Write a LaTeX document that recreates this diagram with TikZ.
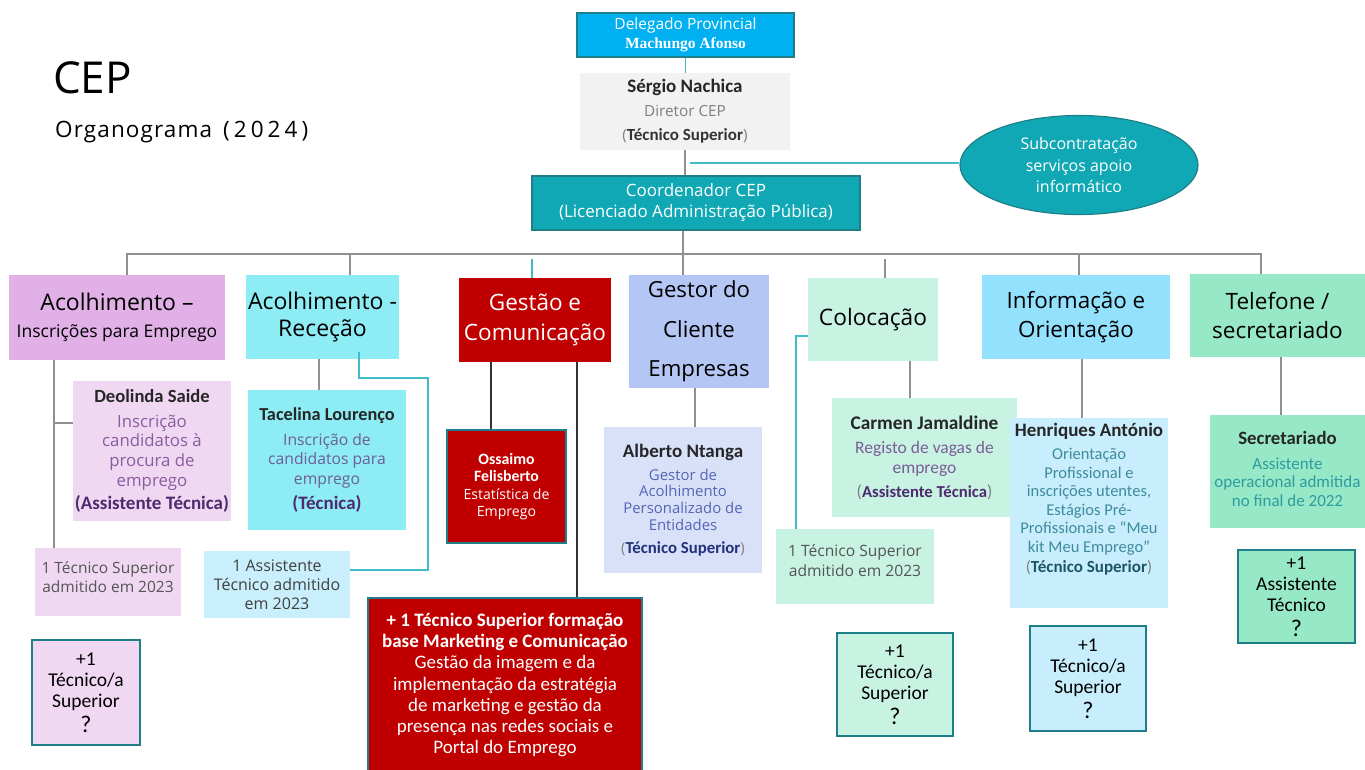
\documentclass[tikz,border=0pt]{standalone}
\usepackage{fontspec}
\setmainfont{Open Sans}
\newfontfamily\cali{Carlito}
\newfontfamily\tnr{Liberation Serif}
\usetikzlibrary{shapes.geometric}
\definecolor{delblue}{HTML}{00B0F0}
\definecolor{tealdk}{HTML}{1E7F88}
\definecolor{tealone}{HTML}{10A8B4}
\definecolor{lgray}{HTML}{F2F2F2}
\definecolor{orchid}{HTML}{E0B0E6}
\definecolor{lav}{HTML}{F0D8F2}
\definecolor{cyanL}{HTML}{8EECF4}
\definecolor{skyL}{HTML}{C9EFFC}
\definecolor{redd}{HTML}{C00000}
\definecolor{periw}{HTML}{B4C6F3}
\definecolor{periwL}{HTML}{D9E1F8}
\definecolor{mint}{HTML}{C8F2E1}
\definecolor{sky}{HTML}{94E1FE}
\definecolor{skyH}{HTML}{C8EEFD}
\definecolor{greentwo}{HTML}{96E8C7}
\definecolor{lineg}{HTML}{909090}
\definecolor{linet}{HTML}{40BCCB}
\definecolor{purpD}{HTML}{8A5CA0}
\definecolor{purpB}{HTML}{4E2A6E}
\definecolor{violG}{HTML}{6C5E96}
\definecolor{blueD}{HTML}{5566B5}
\definecolor{blueB}{HTML}{22327A}
\definecolor{purpC}{HTML}{7A5E98}
\definecolor{tealD}{HTML}{3E8B9B}
\definecolor{tealB}{HTML}{1D5564}
\definecolor{tealS}{HTML}{2F9C9E}
\definecolor{txtg}{HTML}{555555}
\definecolor{parg}{HTML}{7F7F7F}
\newcommand\fsz[2]{\fontsize{#1}{#2}\selectfont}
\newcommand\sz[1]{\fontsize{#1}{\baselineskip}\selectfont}
\newcommand\nmf[2]{{\cali\bfseries\sz{#1}#2}}
\tikzset{
  obox/.style={rectangle, inner sep=0pt, align=center},
  qbox/.style={obox, draw=tealdk, line width=2pt, font=\cali\fsz{19.5}{21}},
  gline/.style={draw=lineg, line width=1.2pt},
  tline/.style={draw=linet, line width=1.2pt},
  kline/.style={draw=black!80, line width=1.3pt}
}
\begin{document}
\begin{tikzpicture}[x=1pt,y=-1pt]
\useasboundingbox (0,0) rectangle (1365,769);
% title
\node[anchor=base west, inner sep=0pt, font=\fsz{44}{44}] (cep) at (53,93) {CEP};
\node[anchor=base west, inner sep=0pt, font=\fsz{22.5}{22.5}] (org) at (55,137) {\addfontfeatures{LetterSpace=5}Organograma\hspace{4pt} {\addfontfeatures{LetterSpace=18}(2024)}};
% top
\node[obox, fill=delblue, draw=tealdk, line width=1.5pt, minimum width=217pt, minimum height=44pt, text=white, font=\fsz{15.5}{19}] (del) at (685.5,35) {Delegado Provincial\\{\tnr\bfseries Machungo Afonso}};
\node[obox, fill=lgray, minimum width=210pt, minimum height=77pt, font=\fsz{15.3}{24}, text=parg] (ser) at (685,111.5) {\nmf{19}{\color{black!85}Sérgio Nachica}\\Diretor CEP\\(\nmf{17}{\color{black!80}Técnico Superior})};
\node[obox, fill=tealone, draw=tealdk, line width=1.5pt, minimum width=328pt, minimum height=54pt, text=white, font=\fsz{17}{21}] (coord) at (696,203) {Coordenador CEP\\(Licenciado Administração Pública)};
\node[ellipse, fill=tealone, draw=tealdk, line width=1.2pt, minimum width=238pt, minimum height=99pt, inner sep=0pt, align=center, text=white, font=\fsz{16}{21.5}] (ell) at (1079,165) {Subcontratação\\serviços apoio\\informático};
% level 2
\node[obox, fill=orchid, minimum width=216pt, minimum height=85pt, font=\fsz{17.5}{26.7}] (ai) at (117,317.5) {{\sz{23}Acolhimento –}\\Inscrições para Emprego};
\node[obox, fill=cyanL, minimum width=153pt, minimum height=84pt, font=\fsz{23}{27}] (ar) at (322.5,317) {Acolhimento -\\Receção};
\node[obox, fill=redd, minimum width=152pt, minimum height=84pt, text=white, font=\fsz{22.5}{29.3}] (gc) at (535,320) {Gestão e\\Comunicação};
\node[obox, fill=periw, minimum width=140pt, minimum height=113pt, font=\fsz{22.2}{39.7}] (ge) at (699,331.5) {Gestor do\\Cliente\\Empresas};
\node[obox, fill=mint, minimum width=130pt, minimum height=83pt, font=\fsz{22.7}{28}] (co) at (873,319.5) {Colocação};
\node[obox, fill=sky, minimum width=188pt, minimum height=84pt, font=\fsz{22.4}{28.3}] (io) at (1076,317) {Informação e\\Orientação};
\node[obox, fill=greentwo, minimum width=175pt, minimum height=83pt, font=\fsz{22.5}{28.3}] (ts) at (1277.5,315.5) {Telefone /\\secretariado};
% level 3
\node[obox, fill=lav, minimum width=158pt, minimum height=140pt, font=\fsz{16.8}{19.7}, text=purpD] (deo) at (152,451) {\nmf{18.6}{\color{black!85}Deolinda Saide}\\[5pt]Inscrição\\candidatos à\\procura de\\emprego\\[4pt]\nmf{19}{\color{purpB}(Assistente Técnica)}};
\node[obox, fill=lav, minimum width=146pt, minimum height=68pt, font=\fsz{15.5}{19.3}, text=txtg, text depth=10pt] (ai1) at (108,582) {1 Técnico Superior\\admitido em 2023};
\node[qbox, fill=lav, minimum width=108pt, minimum height=105pt] (aiq) at (86,692.5) {+1\\Técnico/a\\Superior\\[4pt]{\sz{24}?}};
\node[obox, fill=cyanL, minimum width=158pt, minimum height=140pt, font=\fsz{15.7}{19.3}, text=violG] (tac) at (327,460) {\nmf{18.3}{\color{black!85}Tacelina Lourenço}\\[6pt]Inscrição de\\candidatos para\\emprego\\[6pt]\nmf{19}{\color{purpB}(Técnica)}};
\node[obox, fill=skyL, minimum width=146pt, minimum height=67pt, font=\fsz{16}{19.3}, text=black!75] (ar1) at (277,584.5) {1 Assistente\\Técnico admitido\\em 2023};
\node[obox, fill=redd, draw=tealdk, line width=2pt, minimum width=119pt, minimum height=113pt, text=white, font=\fsz{14.1}{17.4}] (oss) at (506.5,486.5) {\nmf{15.8}{Ossaimo}\\\nmf{15.8}{Felisberto}\\Estatística de\\Emprego};
\node[obox, fill=redd, draw=tealdk, line width=2pt, minimum width=274pt, minimum height=174pt, text=white, font=\cali\fsz{19}{21.3}] (big) at (505,685) {\textbf{+ 1 Técnico Superior formação}\\\textbf{base Marketing e Comunicação}\\Gestão da imagem e da\\implementação da estratégia\\de marketing e gestão da\\presença nas redes sociais e\\Portal do Emprego};
\node[obox, fill=periwL, minimum width=158pt, minimum height=146pt, font=\fsz{14.9}{16.9}, text=blueD] (alb) at (683,500) {\nmf{19}{\color{black!85}Alberto Ntanga}\\[6pt]Gestor de\\Acolhimento\\Personalizado de\\Entidades\\[6pt]{\color{parg}(}\nmf{16.8}{\color{blueB}Técnico Superior}{\color{parg})}};
\node[obox, fill=mint, minimum width=185pt, minimum height=119pt, font=\cali\fsz{17.5}{20}, text=purpC] (car) at (924.5,457.5) {\nmf{19.3}{\color{black!85}Carmen Jamaldine}\\[4pt]Registo de vagas de\\emprego\\[4pt]{\color{parg}(}\nmf{16.7}{\color{purpB}Assistente Técnica}{\color{parg})}};
\node[obox, fill=mint, minimum width=158pt, minimum height=75pt, font=\fsz{15.6}{19.3}, text=txtg, text depth=12pt] (co1) at (855,566.5) {1 Técnico Superior\\admitido em 2023};
\node[qbox, fill=mint, minimum width=116pt, minimum height=103pt] (coq) at (895,684.5) {+1\\Técnico/a\\Superior\\[4pt]{\sz{24}?}};
\node[obox, fill=skyH, minimum width=158pt, minimum height=190pt, font=\cali\fsz{16.5}{18.5}, text=tealD, text depth=30pt] (hen) at (1089,513) {\nmf{19}{\color{black!85}Henriques António}\\[5pt]Orientação\\Profissional e\\inscrições utentes,\\Estágios Pré-\\Profissionais e “Meu\\kit Meu Emprego”\\[2pt]{\color{parg}(}\nmf{17}{\color{tealB}Técnico Superior}{\color{parg})}};
\node[qbox, fill=skyH, minimum width=116pt, minimum height=105pt] (ioq) at (1088,678.5) {+1\\Técnico/a\\Superior\\[4pt]{\sz{24}?}};
\node[obox, fill=greentwo, minimum width=155pt, minimum height=113pt, font=\cali\fsz{17}{18.5}, text=tealS, text depth=5pt] (sec) at (1287.5,471.5) {\nmf{18.8}{\color{black!85}Secretariado}\\[6pt]Assistente\\operacional admitida\\no final de 2022};
\node[qbox, fill=greentwo, minimum width=117pt, minimum height=93pt] (tsq) at (1296.5,596.5) {+1\\Assistente\\Técnico\\[4pt]{\sz{24}?}};
% connectors top
\draw[tline] (del.south) -- (del.south |- ser.north);
\draw[gline] (ser.south) -- (ser.south |- coord.north);
\coordinate (sj) at (690,163);
\draw[tline] (sj) -- (sj -| ell.west);
\coordinate (bus) at (683,254);
\draw[gline] (coord.south -| bus) -- (bus |- ge.north);
\coordinate (bL) at (127,254);
\coordinate (bR) at (1261,254);
\draw[gline] (bL |- ai.north) -- (bL) -- (bR) -- (bR |- ts.north);
\coordinate (vAR) at (350,254);
\draw[gline] (vAR) -- (vAR |- ar.north);
\coordinate (vCO) at (885,259);
\draw[gline] (vCO) -- (vCO |- co.north);
\coordinate (vIO) at (1079,254);
\draw[gline] (vIO) -- (vIO |- io.north);
\coordinate (vGC) at (532,259);
\draw[tline] (vGC) -- (vGC |- gc.north);
% level 3 connectors
\coordinate (xAI) at (54,0);
\draw[gline] (xAI |- ai.south) -- (xAI |- ai1.north);
\coordinate (jAI) at (54,423);
\draw[gline] (jAI) -- (jAI -| deo.west);
\coordinate (xAR) at (319,0);
\draw[gline] (xAR |- ar.south) -- (xAR |- tac.north);
\coordinate (sAR) at (359,352);
\coordinate (kAR) at (428,378);
\draw[tline] (sAR) |- (kAR) |- ([yshift=14.5pt]ar1.east);
\coordinate (xGCa) at (491,0);
\draw[kline] (xGCa |- gc.south) -- (xGCa |- oss.north);
\coordinate (xGCb) at (577,0);
\draw[kline] (xGCb |- gc.south) -- (xGCb |- big.north);
\coordinate (xGE) at (695,0);
\draw[gline] (xGE |- ge.south) -- (xGE |- alb.north);
\coordinate (xCO) at (910,0);
\draw[gline] (xCO |- co.south) -- (xCO |- car.north);
\coordinate (jCO) at (796,336);
\draw[tline] (jCO -| co.west) -- (jCO) -- (jCO |- co1.north);
\coordinate (xIO) at (1082,0);
\draw[gline] (xIO |- io.south) -- (xIO |- hen.north);
\coordinate (xTS) at (1281,0);
\draw[gline] (xTS |- ts.south) -- (xTS |- sec.north);
\end{tikzpicture}
\end{document}
